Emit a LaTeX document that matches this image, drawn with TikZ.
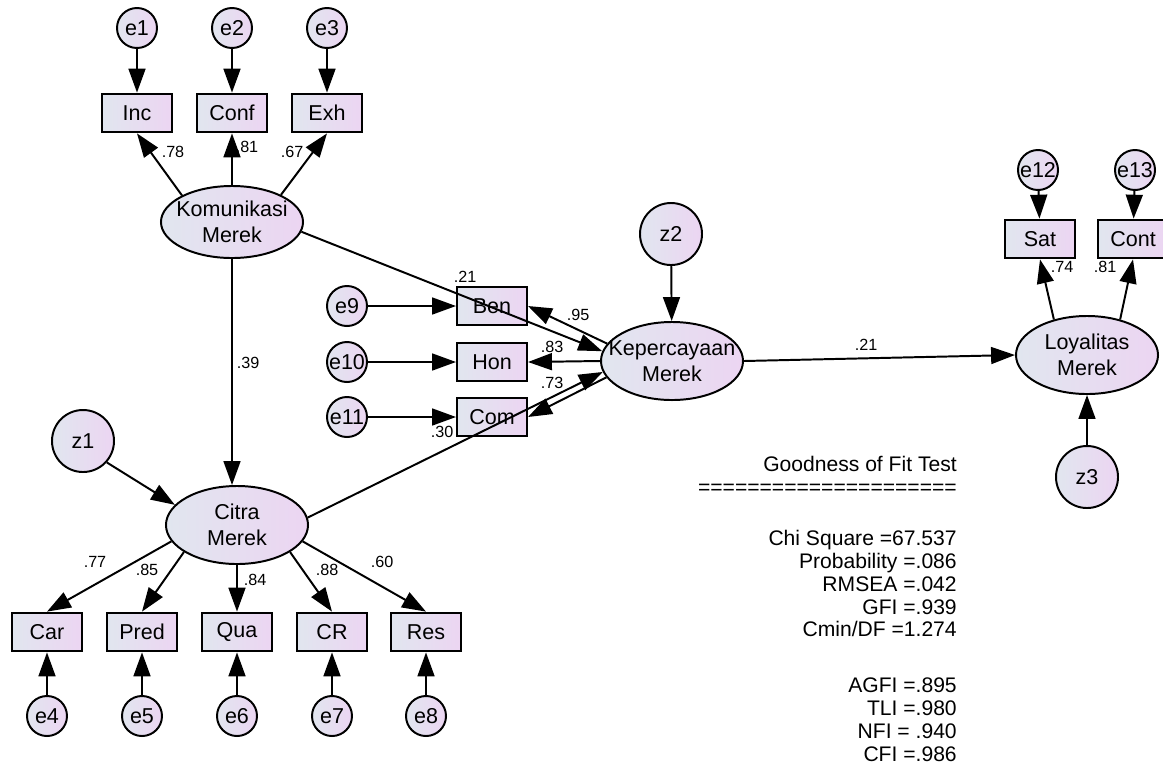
\documentclass[tikz,border=0pt]{standalone}
\usepackage{fontspec}
\setmainfont{Liberation Sans}
\usepackage{xcolor}
\usetikzlibrary{shapes,arrows.meta,positioning}

\definecolor{amosL}{RGB}{225,230,239}
\definecolor{amosR}{RGB}{236,213,242}
\newcommand{\latname}[2]{\makebox[0pt]{#1}\\\makebox[0pt]{#2}}

\begin{document}
\begin{tikzpicture}[x=0.025cm, y=-0.025cm,
  lat/.style={ellipse, draw, line width=1.4pt, left color=amosL, right color=amosR,
              minimum width=3.55cm, minimum height=1.95cm, inner sep=0pt,
              align=center, font=\fontsize{15.3}{18.5}\selectfont},
  obs/.style={rectangle, draw, line width=1.4pt, left color=amosL, right color=amosR,
              minimum width=1.75cm, minimum height=0.97cm, inner sep=0pt,
              font=\fontsize{15.3}{18}\selectfont},
  err/.style={circle, draw, line width=1.4pt, left color=amosL, right color=amosR,
              minimum size=1cm, inner sep=0pt, font=\fontsize{15.3}{18}\selectfont},
  dist/.style={err, minimum size=1.55cm},
  arr/.style={-{Triangle[length=17pt,width=12pt]}, line width=1.4pt},
  num/.style={font=\fontsize{11.5}{13}\selectfont, inner sep=0pt}
]
\useasboundingbox (0,0) rectangle (1163,771);

\node[lat, minimum height=1.8cm] (kom) at (232,222) {\latname{Komunikasi}{Merek}};
\node[lat] (cit) at (237,525) {\latname{Citra}{Merek}};
\node[lat] (kep) at (672,361) {\latname{Kepercayaan}{Merek}};
\node[lat] (loy) at (1087,355) {\latname{Loyalitas}{Merek}};

\node[obs] (inc)  at (137,113) {Inc};
\node[obs] (conf) at (232,113) {Conf};
\node[obs] (exh)  at (327,113) {Exh};
\node[err] (e1) at (137,28) {e1};
\node[err] (e2) at (232,28) {e2};
\node[err] (e3) at (327,28) {e3};

\node[obs] (ben) at (492,306) {Ben};
\node[obs] (hon) at (492,362) {Hon};
\node[obs] (com) at (492,417) {Com};
\node[err] (e9)  at (347,306) {e9};
\node[err] (e10) at (347,362) {e10};
\node[err] (e11) at (347,417) {e11};

\node[obs] (car)  at (47,632)  {Car};
\node[obs] (pred) at (142,632) {Pred};
\node[obs] (qua)  at (237,632) {Qua};
\node[obs] (cr)   at (332,632) {CR};
\node[obs] (res)  at (426,632) {Res};
\node[err] (e4) at (47,716)  {e4};
\node[err] (e5) at (142,716) {e5};
\node[err] (e6) at (237,716) {e6};
\node[err] (e7) at (332,716) {e7};
\node[err] (e8) at (426,716) {e8};

\node[obs] (sat)  at (1040,239) {Sat};
\node[obs] (cont) at (1133,239) {Cont};
\node[err] (e12) at (1038,170) {e12};
\node[err] (e13) at (1135,170) {e13};

\node[dist] (z1) at (83,441)   {z1};
\node[dist] (z2) at (671,234)  {z2};
\node[dist] (z3) at (1087,477) {z3};

\draw[arr] (e1) -- (inc);
\draw[arr] (e2) -- (conf);
\draw[arr] (e3) -- (exh);
\draw[arr] (kom.152) -- (inc.south);
\draw[arr] (kom.north) -- (conf.south);
\draw[arr] (kom.29) -- (exh.south);

\draw[arr] (e9) -- (ben);
\draw[arr] (e10) -- (hon);
\draw[arr] (e11) -- (com);
\draw[arr] (kep.165) -- (ben.east);
\draw[arr] (kep.west) -- (hon.east);
\draw[arr] (kep.194) -- (com.east);

\draw[arr] (cit.194) -- (car.north);
\draw[arr] (cit.207) -- (pred.north);
\draw[arr] (cit.south) -- (qua.north);
\draw[arr] (cit.333) -- (cr.north);
\draw[arr] (cit.346) -- (res.north);
\draw[arr] (e4) -- (car);
\draw[arr] (e5) -- (pred);
\draw[arr] (e6) -- (qua);
\draw[arr] (e7) -- (cr);
\draw[arr] (e8) -- (res);

\draw[arr] (e12) -- (sat);
\draw[arr] (e13) -- (cont);
\draw[arr] (loy.133) -- (sat.south);
\draw[arr] (loy.47) -- (cont.south);

\draw[arr] (kom.352) -- (kep.172);
\draw[arr] (kom.south) -- (kom.south |- cit.north);
\draw[arr] (cit.6) -- (kep.189);
\draw[arr] (kep.east) -- (loy.west);
\draw[arr] (z1.318) -- (cit.162);
\draw[arr] (z2) -- (kep);
\draw[arr] (z3) -- (loy);

\node[num] (l78) at (173,152) {.78};
\node[num] (l81) at (247,147) {.81};
\node[num] (l67) at (292,152) {.67};
\node[num] (l21a) at (465,277) {.21};
\node[num] (l39) at (248,363) {.39};
\node[num] (l95) at (578,315) {.95};
\node[num] (l83) at (552,347) {.83};
\node[num] (l73) at (552,383) {.73};
\node[num] (l30) at (442,432) {.30};
\node[num] (l21b) at (866,345) {.21};
\node[num] (l77) at (95,562)  {.77};
\node[num] (l85) at (147,570) {.85};
\node[num] (l84) at (255,580) {.84};
\node[num] (l88) at (327,570) {.88};
\node[num] (l60) at (382,562) {.60};
\node[num] (l74) at (1062,267) {.74};
\node[num] (l81b) at (1105,267) {.81};

\node[anchor=north east, align=right, inner sep=0pt,
      font=\fontsize{15}{16.3}\selectfont] (gof) at (957,456) {
  Goodness of Fit Test\\
  =====================\\[19.8pt]
  Chi Square =67.537\\
  Probability =.086\\
  RMSEA =.042\\
  GFI =.939\\
  Cmin/DF =1.274\\[23.4pt]
  AGFI =.895\\
  TLI =.980\\
  NFI = .940\\
  CFI =.986
};
\end{tikzpicture}
\end{document}
